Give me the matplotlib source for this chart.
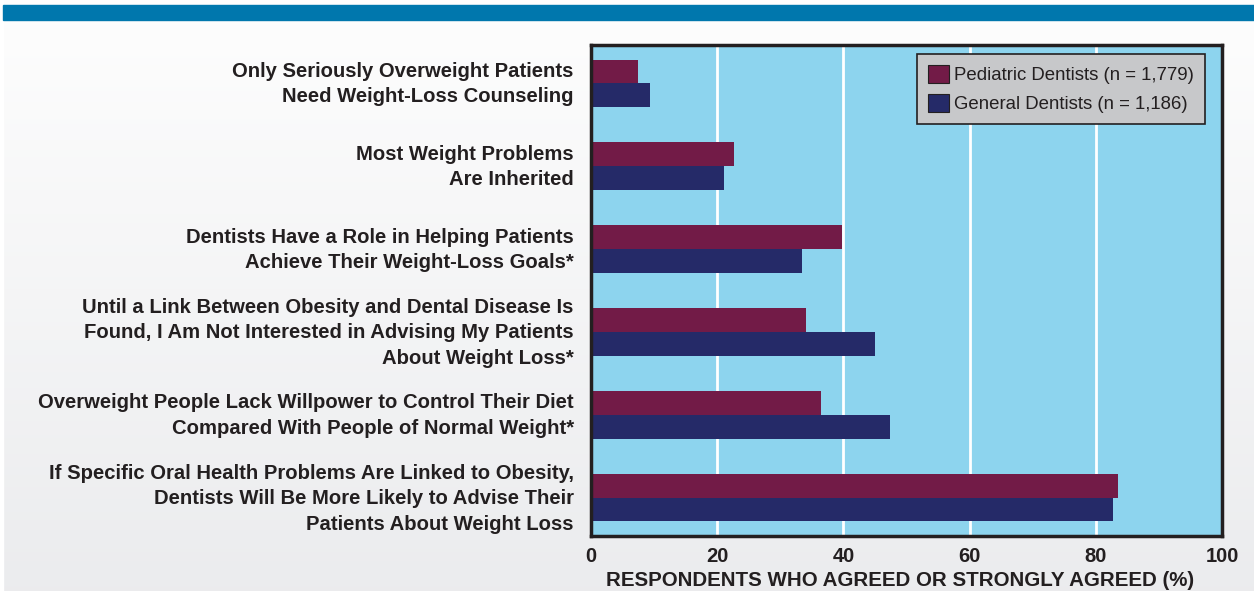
import matplotlib
matplotlib.use("Agg")
import matplotlib.pyplot as plt
import matplotlib.transforms as mtrans
import numpy as np
from matplotlib.patches import Rectangle

categories = [
    "Only Seriously Overweight Patients\nNeed Weight-Loss Counseling",
    "Most Weight Problems\nAre Inherited",
    "Dentists Have a Role in Helping Patients\nAchieve Their Weight-Loss Goals*",
    "Until a Link Between Obesity and Dental Disease Is\nFound, I Am Not Interested in Advising My Patients\nAbout Weight Loss*",
    "Overweight People Lack Willpower to Control Their Diet\nCompared With People of Normal Weight*",
    "If Specific Oral Health Problems Are Linked to Obesity,\nDentists Will Be More Likely to Advise Their\nPatients About Weight Loss",
]
pediatric = [7.4, 22.7, 39.8, 34.1, 36.5, 83.5]
general = [9.3, 21.1, 33.4, 45.0, 47.4, 82.7]
series_labels = ["Pediatric Dentists (n = 1,779)", "General Dentists (n = 1,186)"]
xticks = [0, 20, 40, 60, 80, 100]
xlabel = "RESPONDENTS WHO AGREED OR STRONGLY AGREED (%)"

c_ped = "#721b47"
c_gen = "#252a68"

plt.rcParams['font.family'] = ['Liberation Sans', 'DejaVu Sans']

fig = plt.figure(figsize=(12.54, 5.91), dpi=100)

# background gradient
bg = fig.add_axes([0, 0, 1, 1], zorder=-10)
grad = np.linspace(0, 1, 256).reshape(-1, 1)
top = np.array([0.995, 0.995, 0.995])
bot = np.array([0.922, 0.925, 0.933])
img = top[None, None, :] * (1 - grad[:, :, None]) + bot[None, None, :] * grad[:, :, None]
bg.imshow(img, aspect='auto', extent=[0, 1, 0, 1], origin='upper')
bg.set_xlim(0, 1); bg.set_ylim(0, 1)
bg.axis('off')
bg.add_patch(Rectangle((0, 0), 3/1254, 1, color='white', transform=bg.transAxes))
bg.add_patch(Rectangle((3/1254, 1 - 20/591), 1, 15/591, color='#0077ad', transform=bg.transAxes))

ax = fig.add_axes([591/1254, 55/591, 631/1254, 491/591])
ax.set_facecolor('#8dd4ee')

y = np.arange(len(categories))
h = 0.285
ax.barh(y - h/2, pediatric, height=h, color=c_ped, label=series_labels[0], zorder=3)
ax.barh(y + h/2, general, height=h, color=c_gen, label=series_labels[1], zorder=3)

ax.set_xlim(0, 100)
ax.set_ylim(len(categories) - 0.54, -0.46)
ax.set_xticks(xticks)
ax.set_xticklabels([str(t) for t in xticks], fontsize=14.5, fontweight='bold', color='#231f20')
ax.set_yticks(y)
ax.set_yticklabels(categories, fontsize=14.6, fontweight='bold', color='#231f20', linespacing=1.43)
ax.tick_params(axis='both', length=0)
ax.tick_params(axis='y', pad=12.5)
ax.tick_params(axis='x', pad=8)
shift = mtrans.ScaledTranslation(0, 4.5 / 100, fig.dpi_scale_trans)
for lab in ax.get_yticklabels():
    lab.set_transform(lab.get_transform() + shift)
ax.xaxis.grid(True, color='white', linewidth=2, zorder=1)
ax.set_axisbelow(True)
for s in ax.spines.values():
    s.set_linewidth(2.5)
    s.set_color('#231f20')
    s.set_zorder(5)
ax.set_xlabel(xlabel, fontsize=14.8, fontweight='bold', color='#231f20')
ax.xaxis.set_label_coords((900 - 591) / 631, -(571 - 536) / 491)

leg = ax.legend(loc='upper right', bbox_to_anchor=(0.973, 0.982), fontsize=13.4,
                frameon=True, fancybox=False, facecolor='#c7c8ca', edgecolor='#231f20',
                framealpha=1, handlelength=1.13, handleheight=1.13, handletextpad=0.27,
                borderpad=0.6, labelspacing=0.5, borderaxespad=0)
leg.get_frame().set_linewidth(1.2)
for hnd in leg.legend_handles:
    hnd.set_edgecolor('#231f20')
    hnd.set_linewidth(0.8)
for t in leg.get_texts():
    t.set_color('#231f20')

fig.savefig('out.png', dpi=100)
